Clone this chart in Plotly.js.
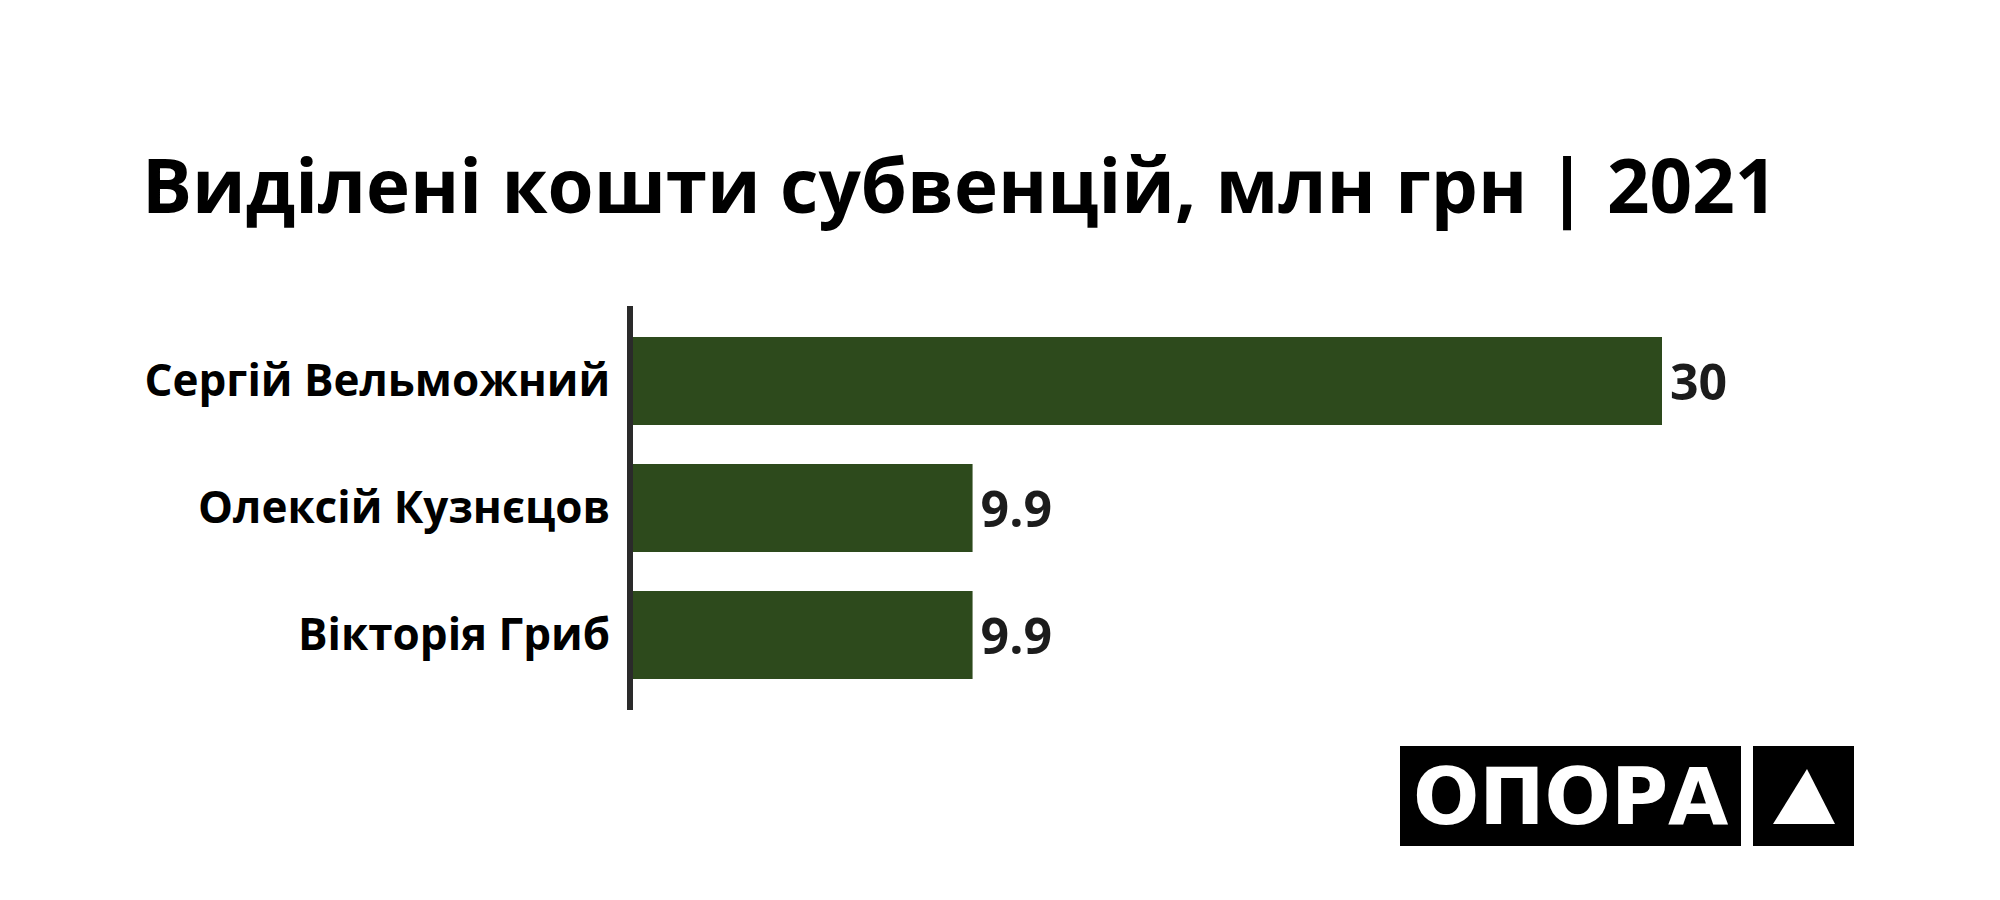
<!DOCTYPE html>
<html>
<head>
<meta charset="utf-8">
<script src="https://cdn.plot.ly/plotly-3.0.1.min.js"></script>
<style>
html,body{margin:0;padding:0;background:#fff;}
#chart{width:2000px;height:900px;}
</style>
</head>
<body>
<div id="chart"></div>
<script>
const names = ["Сергій Вельможний", "Олексій Кузнєцов", "Вікторія Гриб"];
const values = [30, 9.9, 9.9];
const valueLabels = ["30", "9.9", "9.9"];
const titleText = "Виділені кошти субвенцій, млн грн | 2021";
const logoText = "ОПОРА";

const W = 2000, H = 900;
const px = x => x / W;
const py = y => 1 - y / H;

const trace = {
  type: 'bar',
  orientation: 'h',
  x: values,
  y: names,
  text: valueLabels,
  texttemplate: '\u200A%{text}',
  textposition: 'outside',
  cliponaxis: false,
  textfont: {family: 'Open Sans, sans-serif', size: 50, color: '#1c1c1c', weight: 700},
  marker: {color: '#2d4a1c', line: {width: 0}},
  hoverinfo: 'skip'
};

const layout = {
  width: W, height: H,
  margin: {l: 0, r: 0, t: 0, b: 0},
  paper_bgcolor: '#ffffff',
  plot_bgcolor: '#ffffff',
  showlegend: false,
  bargap: 0.307,
  title: {
    text: titleText,
    x: px(142), xanchor: 'left', xref: 'paper',
    y: py(187), yanchor: 'middle', yref: 'paper',
    font: {family: 'Open Sans, sans-serif', size: 74.5, color: '#000000', weight: 700}
  },
  xaxis: {
    domain: [px(633), px(1800)],
    range: [0, 30 * (1800 - 633) / (1662 - 633)],
    showgrid: false, zeroline: false, showline: false,
    showticklabels: false, ticks: '', fixedrange: true
  },
  yaxis: {
    domain: [py(710), py(306)],
    type: 'category',
    categoryorder: 'array',
    categoryarray: names,
    range: [2.59, -0.59],
    showgrid: false, zeroline: false,
    showline: true, linecolor: '#2a2a2a', linewidth: 6,
    ticks: '', ticklabelstandoff: 8,
    tickfont: {family: 'Open Sans, sans-serif', size: 44, color: '#000000', weight: 700},
    automargin: false, fixedrange: true
  },
  shapes: [
    {type: 'rect', xref: 'paper', yref: 'paper', x0: px(1400), x1: px(1741), y0: py(846), y1: py(746),
     fillcolor: '#000000', line: {width: 0}, layer: 'above'},
    {type: 'rect', xref: 'paper', yref: 'paper', x0: px(1753), x1: px(1854), y0: py(846), y1: py(746),
     fillcolor: '#000000', line: {width: 0}, layer: 'above'},
    {type: 'path', xref: 'paper', yref: 'paper',
     path: 'M ' + px(1807) + ' ' + py(769) + ' L ' + px(1835) + ' ' + py(824) + ' L ' + px(1773) + ' ' + py(824) + ' Z',
     fillcolor: '#ffffff', line: {width: 0}, layer: 'above'}
  ],
  annotations: [
    {text: logoText, xref: 'paper', yref: 'paper', x: px(1570), y: py(797),
     xanchor: 'center', yanchor: 'middle', showarrow: false,
     font: {family: 'DejaVu Sans, sans-serif', size: 78, color: '#ffffff', weight: 700}}
  ]
};

Plotly.newPlot('chart', [trace], layout, {displayModeBar: false, staticPlot: true});
</script>
</body>
</html>
